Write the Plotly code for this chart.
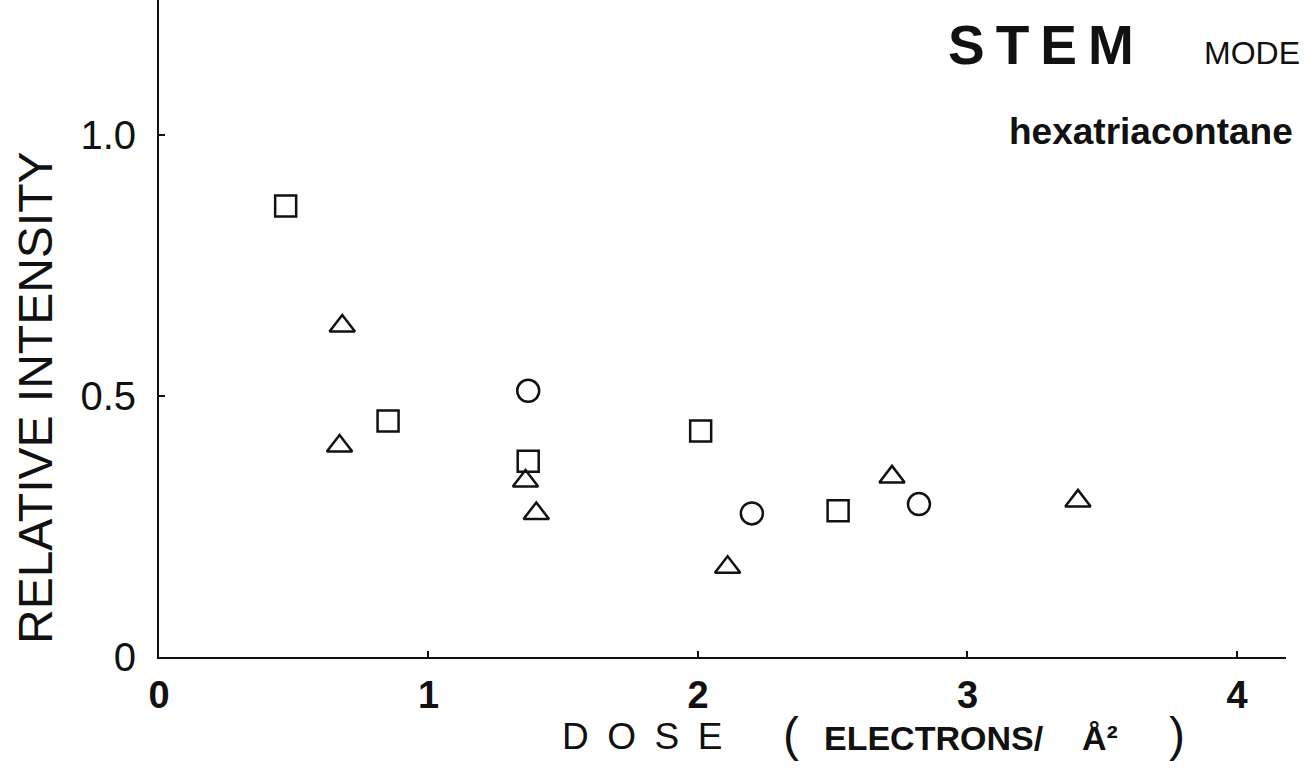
import plotly.graph_objects as go

# ---- data ----
square_x = [0.47, 0.85, 1.37, 2.01, 2.52]
square_y = [0.864, 0.452, 0.375, 0.433, 0.280]

triangle_x = [0.68, 0.67, 1.36, 1.40, 2.11, 2.72, 3.41]
triangle_y = [0.634, 0.404, 0.337, 0.275, 0.172, 0.345, 0.299]

circle_x = [1.37, 2.20, 2.82]
circle_y = [0.510, 0.275, 0.293]

x_tickvals = [0, 1, 2, 3, 4]
x_ticktext = ["0", "1", "2", "3", "4"]
y_tickvals = [0, 0.5, 1.0]
y_ticktext = ["0", "0.5", "1.0"]

FONT = "Liberation Sans, Arial, Helvetica, sans-serif"
INK = "#111111"

fig = go.Figure()

def add_series(xs, ys, symbol, size, name):
    fig.add_trace(go.Scatter(
        x=xs, y=ys, mode="markers", name=name,
        marker=dict(symbol=symbol, size=size, color=INK,
                    line=dict(color=INK, width=2.5)),
        showlegend=False,
    ))

add_series(square_x, square_y, "square-open", 21, "squares")
add_series(triangle_x, triangle_y, "triangle-up-open", 22, "triangles")
add_series(circle_x, circle_y, "circle-open", 22, "circles")

fig.update_layout(
    width=1313, height=771,
    margin=dict(l=159, r=27, t=0, b=114),
    paper_bgcolor="white", plot_bgcolor="white",
    font=dict(family=FONT, color=INK),
    xaxis=dict(
        range=[0, 4.182], showgrid=False, zeroline=False,
        showline=True, linecolor=INK, linewidth=2,
        ticks="inside", ticklen=6, tickwidth=2, tickcolor=INK,
        tickvals=x_tickvals, ticktext=x_ticktext,
        tickfont=dict(size=38, family=FONT, color=INK, weight="bold"),
        ticklabelstandoff=3,
    ),
    yaxis=dict(
        range=[0, 1.2586], showgrid=False, zeroline=False,
        showline=True, linecolor=INK, linewidth=2,
        ticks="inside", ticklen=6, tickwidth=2, tickcolor=INK,
        tickvals=y_tickvals, ticktext=y_ticktext,
        tickfont=dict(size=40, family=FONT, color=INK),
        ticklabelstandoff=13,
    ),
)

def px_x(px):
    return (px - 159) / 1127.0

def px_y(py):
    return (657 - py) / 657.0

annotations = [
    dict(text="S\u2009T\u2009E\u2009M", x=px_x(1041), y=px_y(45),
         font=dict(size=55, family=FONT, color=INK, weight="bold")),
    dict(text="MODE", x=px_x(1252), y=px_y(53),
         font=dict(size=32, family=FONT, color=INK)),
    dict(text="hexatriacontane", x=px_x(1151), y=px_y(131),
         font=dict(size=37, family=FONT, color=INK, weight="bold")),
    dict(text="RELATIVE INTENSITY", x=px_x(35), y=px_y(398), textangle=-90,
         font=dict(size=48, family=FONT, color=INK)),
    # x-axis title, piece by piece
    dict(text="D\u2002O\u2002S\u2002E", x=px_x(642), y=px_y(759),
         yanchor="bottom",
         font=dict(size=37, family=FONT, color=INK)),
    dict(text="(", x=px_x(791), y=px_y(763), yanchor="bottom",
         font=dict(size=48, family=FONT, color=INK)),
    dict(text="ELECTRONS/", x=px_x(822), y=px_y(759),
         xanchor="left", yanchor="bottom",
         font=dict(size=34, family=FONT, color=INK, weight="bold")),
    dict(text="\u00c5\u00b2", x=px_x(1080), y=px_y(759),
         xanchor="left", yanchor="bottom",
         font=dict(size=34, family=FONT, color=INK, weight="bold")),
    dict(text=")", x=px_x(1177), y=px_y(763), yanchor="bottom",
         font=dict(size=48, family=FONT, color=INK)),
]
for a in annotations:
    a.setdefault("xanchor", "center")
    a.setdefault("yanchor", "middle")
    fig.add_annotation(xref="paper", yref="paper", showarrow=False, **a)

fig.write_html("out.html")
